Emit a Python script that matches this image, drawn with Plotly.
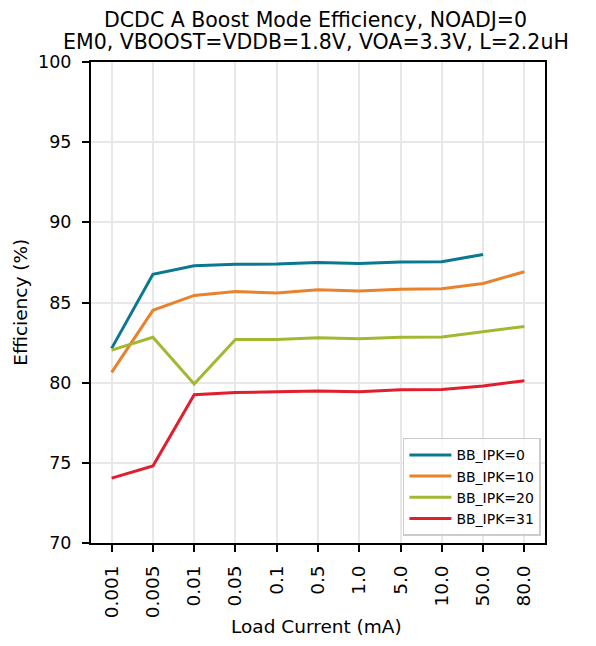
import plotly.graph_objects as go

load_current = ["0.001", "0.005", "0.01", "0.05", "0.1", "0.5", "1.0", "5.0", "10.0", "50.0", "80.0"]
ipk0 = [82.14, 86.76, 87.29, 87.38, 87.40, 87.50, 87.44, 87.52, 87.54, 88.00]
ipk10 = [80.64, 84.51, 85.44, 85.69, 85.59, 85.80, 85.71, 85.82, 85.86, 86.19, 86.92]
ipk20 = [82.03, 82.83, 79.91, 82.70, 82.70, 82.80, 82.74, 82.83, 82.85, 83.18, 83.51]
ipk31 = [74.05, 74.80, 79.25, 79.39, 79.43, 79.48, 79.43, 79.56, 79.58, 79.79, 80.12]
y_ticks = [70, 75, 80, 85, 90, 95, 100]
title_lines = ["DCDC A Boost Mode Efficiency, NOADJ=0",
               "EM0, VBOOST=VDDB=1.8V, VOA=3.3V, L=2.2uH"]
x_title = "Load Current (mA)"
y_title = "Efficiency (%)"

series = [
    ("BB_IPK=0", ipk0, "#0B7891"),
    ("BB_IPK=10", ipk10, "#E8822C"),
    ("BB_IPK=20", ipk20, "#A3B830"),
    ("BB_IPK=31", ipk31, "#E01E2E"),
]

font = "DejaVu Sans"
fig = go.Figure()
for name, vals, color in series:
    fig.add_trace(go.Scatter(
        x=load_current[:len(vals)], y=vals, mode="lines", name=name,
        line=dict(color=color, width=3),
    ))

def label(text, x, y, size, angle=0):
    return dict(text=text, xref="paper", yref="paper", x=x, y=y,
                xanchor="center", yanchor="middle", showarrow=False, borderpad=0,
                textangle=angle, font=dict(family=font, size=size, color="black"))

fig.update_layout(
    width=588, height=630,
    margin=dict(l=83, r=51, t=54, b=95),
    paper_bgcolor="white", plot_bgcolor="white",
    font=dict(family=font, size=18, color="black"),
    showlegend=True,
    legend=dict(
        x=0.991, xanchor="right", y=0.015, yanchor="bottom",
        bgcolor="rgba(255,255,255,0.8)", bordercolor="#cccccc", borderwidth=1.5,
        font=dict(family=font, size=14, color="black"),
        tracegroupgap=0, itemwidth=42,
    ),
    annotations=[
        label(title_lines[0], 0.495, 1.0879, 20.5),
        label(title_lines[1], 0.495, 1.0422, 20.5),
        label(x_title, 0.497, -0.1726, 18.5),
        label(y_title, -0.156, 0.5, 18.5, angle=-90),
    ],
)
fig.update_xaxes(
    type="category", categoryorder="array", categoryarray=load_current,
    range=[-0.5, 10.5], automargin=False,
    tickangle=-90, ticks="outside", ticklen=7, tickwidth=1.5, tickcolor="black",
    ticklabelstandoff=6,
    showgrid=True, gridcolor="#e8e8e8", gridwidth=1.5,
    showline=True, linecolor="black", linewidth=2, mirror=True,
    tickfont=dict(family=font, size=18.5),
)
fig.update_yaxes(
    range=[70, 100], tickvals=y_ticks, automargin=False,
    ticks="outside", ticklen=7, tickwidth=1.5, tickcolor="black",
    ticklabelstandoff=7,
    showgrid=True, gridcolor="#e8e8e8", gridwidth=1.5,
    showline=True, linecolor="black", linewidth=2, mirror=True,
    zeroline=False,
    tickfont=dict(family=font, size=17.5),
)

fig.write_html("out.html")
